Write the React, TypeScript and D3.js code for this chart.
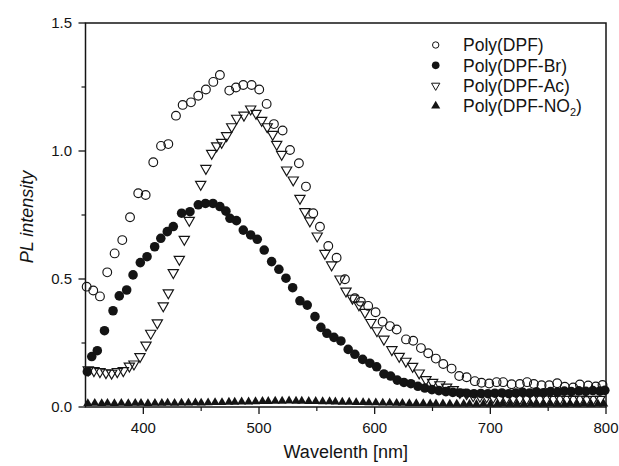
import React from "react";
import * as d3 from "d3";

// ---- data (wavelength nm, PL intensity) ----
const DPF: [number, number][] = [
  [351,0.47],[356.7,0.455],[362.5,0.432],[368.8,0.526],[375.2,0.60],[381.8,0.652],[388.5,0.741],[395.6,0.835],
  [402,0.828],[408.6,0.956],[415.3,1.02],[421.6,1.027],[428.2,1.138],[434,1.18],[441.2,1.19],[447.5,1.216],
  [454.1,1.24],[460.5,1.27],[466.2,1.297],[474.3,1.236],[480.1,1.248],[486.4,1.258],[493.6,1.258],[500.2,1.24],
  [506.6,1.184],[512.9,1.105],[520.4,1.08],[526.8,1.004],[534.5,0.952],[540.6,0.861],[546.9,0.757],[552.7,0.704],
  [559.9,0.629],[567.1,0.583],[574.3,0.499],[582.9,0.425],[588.1,0.411],[594.4,0.395],[600.8,0.37],[606.9,0.333],
  [613.2,0.316],[619,0.303],[627.1,0.264],[633.3,0.259],[640,0.23],[646.3,0.21],[652.9,0.189],[659.3,0.168],
  [666.5,0.15],[673.1,0.121],[679.5,0.116],[686.6,0.101],[692.4,0.095],[699,0.092],[705.4,0.097],[711.1,0.097],
  [718.4,0.089],[725.5,0.09],[731.8,0.097],[737.6,0.09],[744.3,0.085],[750.9,0.085],[757.8,0.093],[764.4,0.079],
  [771.6,0.076],[777.4,0.088],[784.6,0.084],[791.2,0.08],[797,0.086]
];

const DPF_BR: [number, number][] = [
  [351.6,0.138],[355.4,0.197],[360.2,0.22],[366.4,0.298],[373.8,0.376],[379.2,0.434],[385.6,0.457],[391.1,0.516],
  [397.4,0.564],[403.2,0.587],[409.8,0.626],[415.1,0.659],[420.7,0.685],[425.9,0.705],[433.1,0.757],[440.3,0.763],
  [447.5,0.79],[453.7,0.795],[460.2,0.795],[466.2,0.783],[471.4,0.765],[474.9,0.737],[480.5,0.728],[486.4,0.691],
  [492.8,0.672],[498.5,0.655],[504.5,0.613],[510.9,0.568],[517.2,0.538],[523.3,0.503],[529.1,0.466],[535.4,0.415],
  [541.7,0.398],[548.4,0.353],[553.5,0.311],[558.7,0.288],[564.8,0.272],[570.8,0.258],[577.1,0.225],[582.9,0.206],
  [589.6,0.186],[595.9,0.171],[601.7,0.157],[608,0.129],[613.8,0.121],[619.5,0.105],[625.3,0.096],[631.3,0.091],
  [637.4,0.081],[643.4,0.074],[649.5,0.068],[655.5,0.064],[661.6,0.06],[667.6,0.057],[673.7,0.055],[679.7,0.054],
  [685.8,0.052],[691.8,0.053],[697.9,0.052],[703.9,0.054],[710,0.055],[716,0.052],[722,0.055],[728,0.057],
  [734,0.055],[740,0.058],[746,0.056],[752,0.06],[758,0.058],[764,0.062],[770,0.06],[776.5,0.063],
  [782.6,0.061],[788.6,0.064],[794.7,0.062],[799,0.065]
];

const DPF_AC: [number, number][] = [
  [352.4,0.145],[357.3,0.142],[362.5,0.138],[367.7,0.134],[372.6,0.132],[377.5,0.138],[382.7,0.142],[387.9,0.16],
  [391.9,0.168],[397.1,0.197],[402.3,0.242],[406.4,0.288],[412.1,0.329],[417.2,0.395],[421.6,0.446],[425.9,0.525],
  [431.1,0.577],[435.4,0.655],[439.7,0.729],[449.6,0.87],[454.1,0.932],[459.1,0.991],[463.4,1.02],[467.7,1.034],
  [472,1.06],[476.4,1.095],[480.7,1.128],[487,1.14],[492.8,1.164],[497.4,1.147],[502.3,1.12],[507.1,1.095],
  [511.8,1.065],[515.3,1.026],[519.6,0.987],[523.9,0.926],[529.6,0.887],[535.4,0.815],[539.7,0.763],[544,0.727],
  [550.3,0.668],[557,0.6],[562.8,0.555],[570,0.5],[575.2,0.453],[580.8,0.425],[586.4,0.399],[591.6,0.37],
  [596.8,0.33],[602,0.298],[608,0.265],[614.9,0.224],[621.2,0.198],[627,0.179],[632.8,0.159],[638.5,0.133],
  [644.3,0.107],[650.1,0.096],[656.4,0.087],[662.2,0.078],[667.9,0.068],[673.7,0.057],[679.5,0.052],[685.2,0.044],
  [691,0.042],[696.8,0.04],[702.5,0.038],[708.3,0.036],[714,0.035],[719.8,0.034],[725.5,0.033],[731.3,0.032],
  [737,0.033],[742.8,0.031],[748.6,0.032],[754.3,0.03],[760.1,0.031],[765.9,0.03],[771.6,0.03],[777.4,0.031],
  [783.2,0.029],[788.9,0.03],[794.7,0.03]
];

const DPF_NO2: [number, number][] = [
  [352,0.014],[358,0.015],[364,0.014],[369,0.015],[375,0.014],[381,0.015],[387,0.014],[393,0.015],
  [398,0.015],[404,0.014],[410,0.015],[416,0.015],[421,0.016],[427,0.015],[433,0.016],[439,0.016],
  [445,0.017],[450,0.016],[456,0.017],[462,0.018],[468,0.018],[474,0.019],[479,0.019],[485,0.02],
  [491,0.02],[497,0.021],[503,0.022],[508,0.022],[514,0.023],[520,0.023],[526,0.024],[532,0.023],
  [537,0.023],[543,0.022],[549,0.022],[555,0.021],[561,0.021],[566,0.02],[572,0.019],[578,0.019],
  [584,0.018],[590,0.018],[595,0.017],[601,0.017],[607,0.016],[613,0.016],[619,0.015],[624,0.015],
  [630,0.014],[636,0.014],[642,0.014],[648,0.013],[653,0.013],[659,0.013],[665,0.012],[671,0.012],
  [677,0.012],[682,0.012],[688,0.011],[694,0.012],[700,0.011],[706,0.011],[711,0.012],[717,0.011],
  [723,0.011],[729,0.011],[735,0.012],[740,0.011],[746,0.011],[752,0.012],[758,0.011],[764,0.011],
  [769,0.012],[775,0.011],[781,0.012],[787,0.011],[793,0.012],[798,0.012]
];

const X_TICKS = [400, 500, 600, 700, 800];
const X_MINOR = [450, 550, 650, 750];
const Y_TICKS = [0, 0.5, 1.0, 1.5];
const Y_MINOR = [0.25, 0.75, 1.25];
const LEGEND = ["Poly(DPF)", "Poly(DPF-Br)", "Poly(DPF-Ac)", "Poly(DPF-NO"];

const W = 619, H = 466;
const L = 85.5, R = 606, T = 23, B = 407;

export default function App() {
  const x = d3.scaleLinear().domain([350, 800]).range([L, R]);
  const y = d3.scaleLinear().domain([0, 1.5]).range([B, T]);

  const circ = d3.symbol().type(d3.symbolCircle).size(60)() as string;
  const circBig = d3.symbol().type(d3.symbolCircle).size(72)() as string;
  const tri = d3.symbol().type(d3.symbolTriangle).size(46)() as string;
  const triSmall = d3.symbol().type(d3.symbolTriangle).size(36)() as string;

  const lgCirc = d3.symbol().type(d3.symbolCircle).size(32)() as string;
  const lgCircBig = d3.symbol().type(d3.symbolCircle).size(46)() as string;
  const lgTri = d3.symbol().type(d3.symbolTriangle).size(30)() as string;
  const lgTriF = d3.symbol().type(d3.symbolTriangle).size(36)() as string;

  const font = "'Liberation Sans', Arial, sans-serif";
  const ink = "#141414";

  return (
    <svg width={W} height={H} style={{ position: "absolute", left: 0, top: 0, background: "#fff" }}
      fontFamily={font}>
      <rect width={W} height={H} fill="#fff" />
      {/* series */}
      <g>
        {DPF_NO2.map(([a, b], i) => (
          <path key={"n" + i} d={triSmall} transform={`translate(${x(a)},${y(b)})`} fill={ink} />
        ))}
        {DPF_BR.map(([a, b], i) => (
          <path key={"b" + i} d={circBig} transform={`translate(${x(a)},${y(b)})`} fill={ink} />
        ))}
        {DPF_AC.map(([a, b], i) => (
          <path key={"a" + i} d={tri} transform={`translate(${x(a)},${y(b)}) rotate(180)`}
            fill="none" stroke={ink} strokeWidth={1.15} />
        ))}
        {DPF.map(([a, b], i) => (
          <path key={"d" + i} d={circ} transform={`translate(${x(a)},${y(b)})`}
            fill="none" stroke={ink} strokeWidth={1.15} />
        ))}
      </g>
      {/* frame */}
      <rect x={L} y={T} width={R - L} height={B - T} fill="none" stroke={ink} strokeWidth={1.5} />
      {/* x ticks */}
      {X_TICKS.map((t) => (
        <g key={"xt" + t}>
          <line x1={x(t)} x2={x(t)} y1={B} y2={B + 7} stroke={ink} strokeWidth={1.3} />
          <text x={x(t)} y={433} textAnchor="middle" fontSize={15} fill={ink}>{t}</text>
        </g>
      ))}
      {X_MINOR.map((t) => (
        <line key={"xm" + t} x1={x(t)} x2={x(t)} y1={B} y2={B + 4} stroke={ink} strokeWidth={1.2} />
      ))}
      {/* y ticks */}
      {Y_TICKS.map((t) => (
        <g key={"yt" + t}>
          <line x1={L - 7} x2={L} y1={y(t)} y2={y(t)} stroke={ink} strokeWidth={1.3} />
          <text x={72} y={y(t)} dy="0.36em" textAnchor="end" fontSize={15} fill={ink}>{t.toFixed(1)}</text>
        </g>
      ))}
      {Y_MINOR.map((t) => (
        <line key={"ym" + t} x1={L - 4} x2={L} y1={y(t)} y2={y(t)} stroke={ink} strokeWidth={1.2} />
      ))}
      {/* axis titles */}
      <text x={(L + R) / 2} y={458} textAnchor="middle" fontSize={18} fill={ink}>Wavelenth [nm]</text>
      <text transform={`translate(33,${(T + B) / 2 + 2}) rotate(-90)`} textAnchor="middle" fontSize={18}
        fontStyle="italic" fill={ink}>PL intensity</text>
      {/* legend */}
      <g>
        {LEGEND.map((lab, i) => {
          const cy = 45 + i * 20.3;
          const sx = 435.7;
          let sym;
          if (i === 0) sym = <path d={lgCirc} transform={`translate(${sx},${cy})`} fill="none" stroke={ink} strokeWidth={1} />;
          else if (i === 1) sym = <path d={lgCircBig} transform={`translate(${sx},${cy})`} fill={ink} />;
          else if (i === 2) sym = <path d={lgTri} transform={`translate(${sx},${cy}) rotate(180)`} fill="none" stroke={ink} strokeWidth={1} />;
          else sym = <path d={lgTriF} transform={`translate(${sx},${cy})`} fill={ink} />;
          return (
            <g key={"lg" + i}>
              {sym}
              <text x={463} y={cy} dy="0.36em" fontSize={17.5} fill={ink}>
                {lab}
                {i === 3 && (
                  <>
                    <tspan fontSize={11} dy="4">2</tspan>
                    <tspan dy="-4">)</tspan>
                  </>
                )}
              </text>
            </g>
          );
        })}
      </g>
    </svg>
  );
}
